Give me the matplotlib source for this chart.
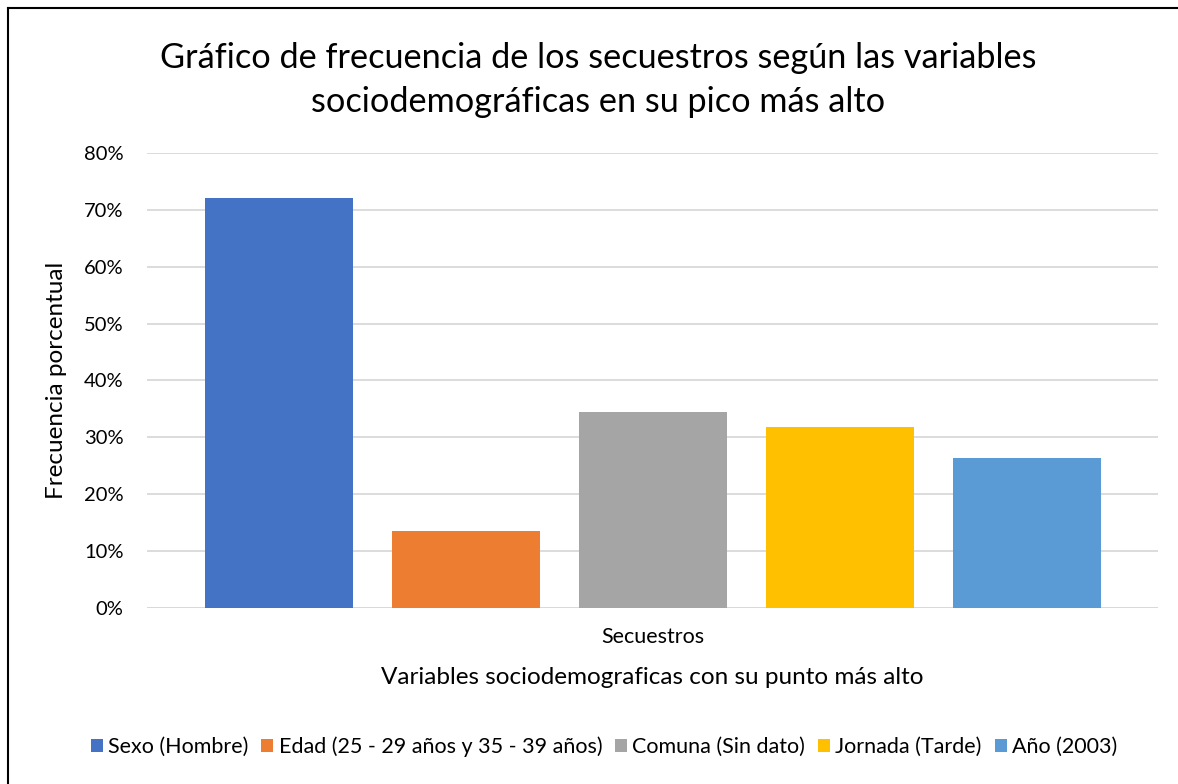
import matplotlib.pyplot as plt
from matplotlib.lines import Line2D
from matplotlib.ticker import PercentFormatter

plt.rcParams['font.family'] = ['Lato', 'DejaVu Sans']

series = ['Sexo (Hombre)', 'Edad (25 - 29 años y 35 - 39 años)', 'Comuna (Sin dato)',
          'Jornada (Tarde)', 'Año (2003)']
values = [72.1, 13.6, 34.4, 31.8, 26.4]
colors = ['#4472C4', '#ED7D31', '#A5A5A5', '#FFC000', '#5B9BD5']
category = 'Secuestros'

fig = plt.figure(figsize=(11.78, 7.84), dpi=100)
ax = fig.add_axes([147 / 1178, 1 - 608 / 784, (1158 - 147) / 1178, (608 - 153) / 784])

for i, (name, val, col) in enumerate(zip(series, values, colors)):
    ax.bar(i, val, width=0.79, color=col, label=name, zorder=3)

ax.set_xlim(-0.706, 4.7)
ax.set_ylim(0, 80)
ax.set_yticks(range(0, 81, 10))
ax.yaxis.set_major_formatter(PercentFormatter(decimals=0))
ax.grid(axis='y', color='#D9D9D9', linewidth=1.3, zorder=0)
ax.set_xticks([2])
ax.set_xticklabels([category], fontsize=15.5)
ax.tick_params(axis='both', length=0, colors='#000000')
ax.tick_params(axis='y', pad=17, labelsize=14.5)
ax.tick_params(axis='x', pad=14)
for s in ax.spines.values():
    s.set_visible(False)
ax.axhline(0, color='#D9D9D9', linewidth=1.3, zorder=2)

ax.set_xlabel('Variables sociodemograficas con su punto más alto', fontsize=17.5, labelpad=14)
ax.set_ylabel('Frecuencia porcentual', fontsize=17.5, labelpad=12)

fig.text(598 / 1178, 1 - 80 / 784, 'Gráfico de frecuencia de los secuestros según las variables\n'
         'sociodemográficas en su pico más alto', ha='center', va='center',
         fontsize=24.7, linespacing=1.45)

fig.legend(loc='center', bbox_to_anchor=(604 / 1178, 1 - 747 / 784), ncol=5, frameon=False,
           fontsize=15.5, handlelength=0.55, handleheight=0.55, handletextpad=0.25,
           columnspacing=0.6)

fig.add_artist(Line2D([8 / 1178, 1], [1 - 8 / 784, 1 - 8 / 784], color='black', linewidth=1.5,
                      transform=fig.transFigure))
fig.add_artist(Line2D([8 / 1178, 8 / 1178], [0, 1 - 8 / 784], color='black', linewidth=1.5,
                      transform=fig.transFigure))

fig.savefig('out.png', dpi=100)
